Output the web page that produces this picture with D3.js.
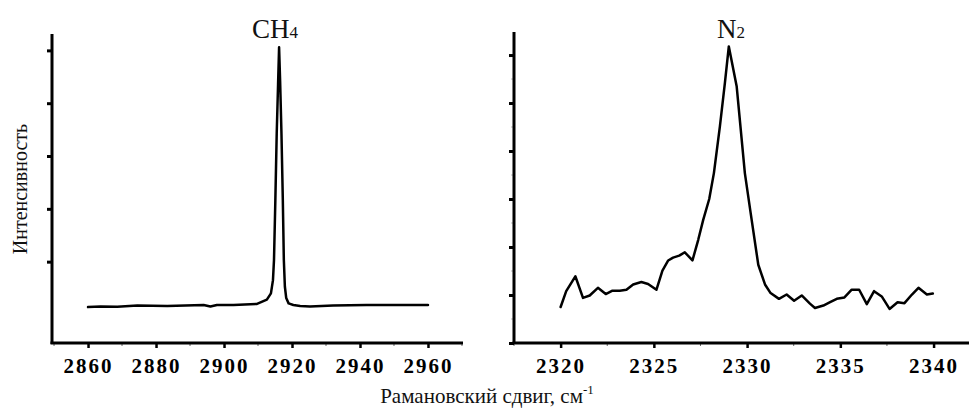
<!DOCTYPE html>
<html>
<head>
<meta charset="utf-8">
<script src="https://cdn.jsdelivr.net/npm/d3@7"></script>
<style>
  html, body { margin: 0; padding: 0; background: #fff; }
  svg { display: block; }
</style>
</head>
<body>
<svg id="chart" width="969" height="408"></svg>
<script>
// ---- Data ----
const ch4Shift = [2860, 2863.7, 2868.6, 2874.5, 2883.3, 2894.0, 2896.0, 2897.9, 2902.8, 2909.7, 2912.6, 2913.8, 2914.4, 2914.7, 2915.1, 2915.5, 2915.9, 2916.2, 2916.5, 2916.9, 2917.3, 2917.6, 2917.9, 2918.3, 2919.0, 2920.4, 2922.4, 2925.3, 2932.1, 2941.9, 2951.7, 2960];
const ch4Intensity = [0.14, 0.15, 0.145, 0.17, 0.16, 0.18, 0.15, 0.18, 0.18, 0.20, 0.28, 0.40, 0.65, 1.03, 2.16, 3.42, 4.36, 5.06, 4.43, 3.42, 2.16, 1.03, 0.53, 0.31, 0.21, 0.18, 0.16, 0.15, 0.17, 0.18, 0.18, 0.18];

const n2Shift = [2320.0, 2320.30, 2320.79, 2321.20, 2321.56, 2322.0, 2322.42, 2322.78, 2323.17, 2323.53, 2323.89, 2324.33, 2324.69, 2325.14, 2325.46, 2325.77, 2326.03, 2326.36, 2326.66, 2327.07, 2327.38, 2327.65, 2327.97, 2328.22, 2328.54, 2328.81, 2329.02, 2329.44, 2329.88, 2330.19, 2330.60, 2330.96, 2331.26, 2331.71, 2332.12, 2332.52, 2332.93, 2333.37, 2333.64, 2334.09, 2334.45, 2334.81, 2335.22, 2335.61, 2336.01, 2336.42, 2336.81, 2337.22, 2337.64, 2338.07, 2338.44, 2338.84, 2339.19, 2339.64, 2339.96];
const n2Intensity = [0.75, 1.08, 1.39, 0.94, 0.99, 1.15, 1.02, 1.09, 1.09, 1.11, 1.22, 1.27, 1.23, 1.11, 1.51, 1.72, 1.78, 1.82, 1.89, 1.72, 2.15, 2.57, 3.0, 3.54, 4.51, 5.42, 6.18, 5.35, 3.54, 2.71, 1.63, 1.22, 1.04, 0.92, 1.01, 0.88, 0.99, 0.82, 0.73, 0.78, 0.85, 0.92, 0.95, 1.11, 1.11, 0.81, 1.08, 0.97, 0.71, 0.85, 0.83, 1.01, 1.15, 1.01, 1.03];

const ch4XTicks = [2860, 2880, 2900, 2920, 2940, 2960];
const ch4XMinor = [2850, 2870, 2890, 2910, 2930, 2950, 2970];
const ch4YTicks = [1, 2, 3, 4, 5];
const n2XTicks = [2320, 2325, 2330, 2335, 2340];
const n2XMinor = [2317.5, 2322.5, 2327.5, 2332.5, 2337.5];
const n2YTicks = [0, 1, 2, 3, 4, 5, 6];
const n2YMinor = [0.5, 1.5, 2.5, 3.5, 4.5, 5.5];

const titles = [{main: "CH", sub: "4"}, {main: "N", sub: "2"}];
const yLabel = "Интенсивность";
const xLabel = "Рамановский сдвиг, см";
const xLabelSup = "-1";

// ---- Drawing ----
const SERIF = "'Liberation Serif', 'Times New Roman', serif";
const svg = d3.select("#chart");

function panel(cfg) {
  const x = d3.scaleLinear().domain(cfg.xDomain).range(cfg.xRange);
  const y = d3.scaleLinear().domain(cfg.yDomain).range(cfg.yRange);
  const g = svg.append("g");
  const y0 = cfg.yRange[0];
  const x0 = cfg.xRange[0];

  // minor x ticks
  g.selectAll(".xminor").data(cfg.xMinor).enter().append("line")
    .attr("x1", d => x(d)).attr("x2", d => x(d))
    .attr("y1", y0).attr("y2", y0 + 3)
    .attr("stroke", "#666").attr("stroke-width", 1);
  // major x ticks
  const xAxis = d3.axisBottom(x).tickValues(cfg.xTicks).tickSizeInner(5).tickSizeOuter(0)
    .tickPadding(9).tickFormat(d3.format("d"));
  const gx = g.append("g").attr("transform", `translate(0,${y0})`).call(xAxis);
  gx.select(".domain").remove();
  gx.selectAll(".tick line").attr("stroke", "#000").attr("stroke-width", 2.5);
  gx.selectAll(".tick text")
    .attr("dy", "0.78em")
    .style("font-family", SERIF)
    .style("font-weight", "bold")
    .style("font-size", "21px")
    .style("letter-spacing", "2px")
    .attr("fill", "#000");

  // minor y ticks
  if (cfg.yMinor) {
    g.selectAll(".yminor").data(cfg.yMinor).enter().append("line")
      .attr("x1", x0).attr("x2", x0 - 3)
      .attr("y1", d => y(d)).attr("y2", d => y(d))
      .attr("stroke", "#bbb").attr("stroke-width", 1);
  }
  const yAxis = d3.axisLeft(y).tickValues(cfg.yTicks).tickSizeInner(5).tickSizeOuter(0).tickFormat("");
  const gy = g.append("g").attr("transform", `translate(${x0},0)`).call(yAxis);
  gy.select(".domain").remove();
  gy.selectAll(".tick line").attr("stroke", "#000").attr("stroke-width", 3);

  // axis lines
  g.append("line").attr("x1", x0).attr("x2", x0).attr("y1", cfg.yRange[1]).attr("y2", y0 + 1)
    .attr("stroke", "#000").attr("stroke-width", 3);
  g.append("line").attr("x1", x0 - 1.5).attr("x2", cfg.xRange[1]).attr("y1", y0).attr("y2", y0)
    .attr("stroke", "#000").attr("stroke-width", 3);

  // data line
  const pts = cfg.xs.map((v, i) => [v, cfg.ys[i]]);
  g.append("path").datum(pts)
    .attr("fill", "none").attr("stroke", "#000").attr("stroke-width", 2.5)
    .attr("stroke-linejoin", "round").attr("stroke-linecap", "round")
    .attr("d", d3.line().x(d => x(d[0])).y(d => y(d[1])));

  // title
  const t = g.append("text")
    .style("font-family", SERIF).style("font-size", "27px").attr("fill", "#111")
    .attr("x", cfg.titleX).attr("y", 38).attr("text-anchor", "middle");
  t.append("tspan").text(cfg.title.main);
  t.append("tspan").style("font-size", "17px").text(cfg.title.sub);
}

panel({
  xDomain: [2849.4, 2970.3], xRange: [52, 463],
  yDomain: [-0.54, 5.31], yRange: [343, 34],
  xTicks: ch4XTicks, xMinor: ch4XMinor, yTicks: ch4YTicks, yMinor: null,
  xs: ch4Shift, ys: ch4Intensity, title: titles[0], titleX: 275
});
panel({
  xDomain: [2317.5, 2341.9], xRange: [514, 969],
  yDomain: [0, 6.48], yRange: [343, 32],
  xTicks: n2XTicks, xMinor: n2XMinor, yTicks: n2YTicks, yMinor: n2YMinor,
  xs: n2Shift, ys: n2Intensity, title: titles[1], titleX: 731
});

// y label
svg.append("text")
  .style("font-family", SERIF).style("font-size", "20px").attr("fill", "#111")
  .attr("transform", "translate(27,189) rotate(-90)")
  .attr("text-anchor", "middle").text(yLabel);

// x label
const xl = svg.append("text")
  .style("font-family", SERIF).style("font-size", "21px").attr("fill", "#111")
  .attr("x", 487).attr("y", 403).attr("text-anchor", "middle");
xl.append("tspan").text(xLabel);
xl.append("tspan").style("font-size", "13px").attr("dy", "-9").text(xLabelSup);
</script>
</body>
</html>
